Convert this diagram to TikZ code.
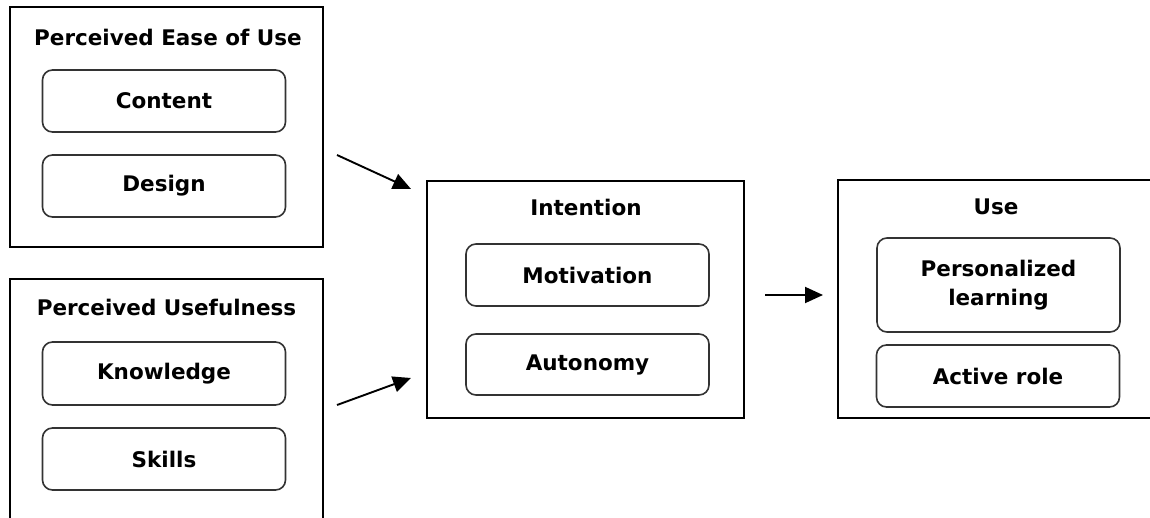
\documentclass[tikz,border=0pt]{standalone}
\usepackage{fontspec}
\setmainfont{DejaVu Sans}
\usetikzlibrary{arrows.meta}
\begin{document}
\begin{tikzpicture}[x=1pt,y=-1pt,
  outerbox/.style={draw=black,line width=1.6pt,minimum width=#1,inner sep=0pt},
  innerbox/.style={draw=black!80,line width=1.6pt,rounded corners=10pt,minimum width=243pt,inner sep=0pt,font=\fontsize{21.5}{29}\selectfont\bfseries,align=center},
  ttl/.style={font=\fontsize{21.5}{29}\selectfont\bfseries,inner sep=0pt},
  arr/.style={line width=1.9pt,-{Triangle[length=18pt,width=16pt]}}]
\useasboundingbox (0,0) rectangle (1150,518);
% outer boxes
\node[outerbox=313pt,minimum height=240pt] (peou) at (166.5,127) {};
\node[outerbox=313pt,minimum height=265pt] (pu) at (166.5,411.5) {};
\node[outerbox=317pt,minimum height=237pt] (int) at (585.5,299.5) {};
\node[outerbox=327pt,minimum height=238pt] (use) at (1001.5,299) {};
% titles
\node[ttl] (t1) at (168,37) {Perceived Ease of Use};
\node[ttl] (t2) at (166.5,307) {Perceived Usefulness};
\node[ttl] (t3) at (586,207) {Intention};
\node[ttl] (t4) at (996,207) {Use};
% inner boxes
\node[innerbox,minimum height=62pt] (content) at (164,101) {Content};
\node[innerbox,minimum height=62pt] (design) at (164,186) {Design};
\node[innerbox,minimum height=63pt] (knowledge) at (164,373.5) {Knowledge};
\node[innerbox,minimum height=62pt] (skills) at (164,459) {Skills};
\node[innerbox,minimum height=62pt] (motiv) at (587.5,275) {Motivation};
\node[innerbox,minimum height=61pt] (auton) at (587.5,364.5) {Autonomy};
\node[innerbox,minimum height=94pt] (perso) at (998.5,285) {Personalized\\learning};
\node[innerbox,minimum height=62pt] (active) at (998,376) {Active role};
% arrow ends
\coordinate (a1s) at (337,155);
\coordinate (a1e) at (411,189);
\coordinate (a2s) at (337,405);
\coordinate (a2e) at (411,378);
\coordinate (a3s) at (765,295);
\coordinate (a3e) at (823,295);
\draw[arr] (a1s) -- (a1e);
\draw[arr] (a2s) -- (a2e);
\draw[arr] (a3s) -- (a3e);
\end{tikzpicture}
\end{document}
